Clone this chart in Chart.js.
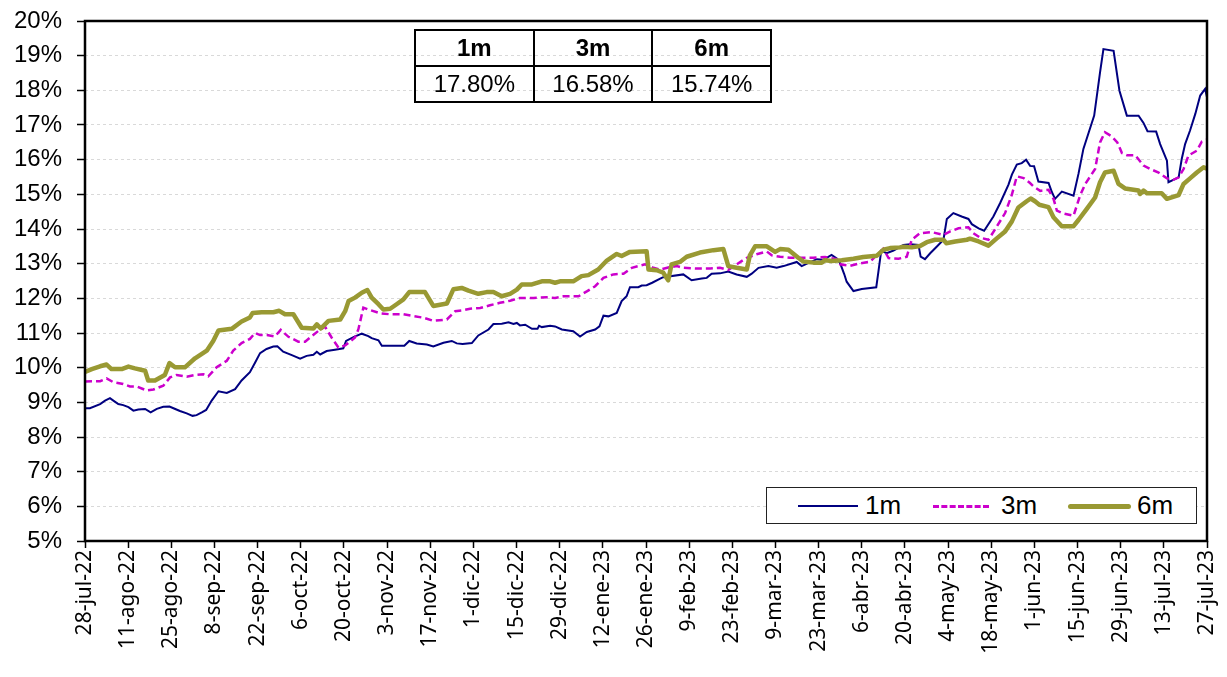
<!DOCTYPE html>
<html lang="es">
<head>
<meta charset="utf-8">
<title>Tasas 1m 3m 6m</title>
<script src="https://cdn.jsdelivr.net/npm/chart.js@4.4.0/dist/chart.umd.min.js"></script>
<style>
  body{ margin:0; background:#fff; }
  #wrap{ position:relative; width:1227px; height:677px; }
  #resumen{
    position:absolute; left:414px; top:29px; width:358px; height:71px;
    border-collapse:collapse; font-family:"Liberation Sans", Arial, sans-serif; font-size:24px;
  }
  #resumen td{ border:2px solid #000; text-align:center; padding:0; height:34px; width:33%; }
  #resumen tr:first-child td{ font-weight:bold; }
  #leyenda{
    position:absolute; left:766px; top:487px; width:429px; height:35px;
    border:1.5px solid #222; background:#fff;
    font-family:"Liberation Sans", Arial, sans-serif; font-size:26px;
  }
  .muestra{ position:absolute; top:17px; }
  .txt{ position:absolute; top:2px; line-height:30px; }
</style>
</head>
<body>
<div id="wrap">
  <canvas id="grafico" width="1227" height="677"></canvas>
  <table id="resumen">
    <tr><td>1m</td><td>3m</td><td>6m</td></tr>
    <tr><td>17.80%</td><td>16.58%</td><td>15.74%</td></tr>
  </table>
  <div id="leyenda">
    <div class="muestra" style="left:31px;width:60px;border-top:2px solid #000080;"></div>
    <div class="txt" style="left:98px;">1m</div>
    <div class="muestra" style="left:166px;width:56px;border-top:3px dashed #cc00cc;"></div>
    <div class="txt" style="left:234px;">3m</div>
    <div class="muestra" style="left:301px;top:16px;width:63px;height:5px;background:#999933;border-radius:3px;"></div>
    <div class="txt" style="left:370px;">6m</div>
  </div>
</div>
<script>
  // etiquetas del eje x, cada 14 dias desde 28-jul-22
  const xLabels = ["28-jul-22","11-ago-22","25-ago-22","8-sep-22","22-sep-22","6-oct-22","20-oct-22","3-nov-22","17-nov-22","1-dic-22","15-dic-22","29-dic-22","12-ene-23","26-ene-23","9-feb-23","23-feb-23","9-mar-23","23-mar-23","6-abr-23","20-abr-23","4-may-23","18-may-23","1-jun-23","15-jun-23","29-jun-23","13-jul-23","27-jul-23"];

  // 1m : dia (desde 28-jul-22) y tasa %
  const dias1m = [0,1.6,4.9,6.5,8.1,9.2,10.8,12.4,14.1,15.7,17.3,19.5,21.3,23.3,25.4,27.4,28.7,30.8,33.0,34.9,36.2,37.9,39.3,41.1,43.3,46.0,48.7,50.8,53.5,55.2,56.8,58.9,61.1,62.4,64.3,67.1,69.8,71.9,74.1,75.2,76.3,78.4,81.1,83.8,84.7,87.1,89.8,91.9,93.0,95.2,96.3,100.0,103.6,105.2,107.6,110.9,113.0,116.3,119.0,120.6,122.5,125.5,127.6,130.9,132.5,135.2,137.4,139.0,140.1,141.1,142.8,145.0,146.8,147.3,148.2,150.9,152.5,154.7,158.4,160.6,162.8,165.5,166.9,168.2,169.8,172.5,174.1,175.7,176.8,179.5,180.6,182.2,184.0,186.6,187.6,194.1,196.8,200.1,201.7,203.3,206.0,208.7,211.4,214.7,216.3,218.5,221.7,224.4,226.6,230.9,232.5,237.4,239.5,242.2,243.9,245.0,246.3,247.1,249.3,252.0,256.7,257.4,258.3,260.1,262.3,265.5,267.7,270.4,271.1,272.5,274.2,276.3,278.5,279.6,281.7,284.4,286.6,287.7,289.9,291.7,294.7,296.9,299.6,300.7,302.3,303.9,305.3,306.6,307.9,309.3,312.6,313.7,314.7,316.9,320.7,322.3,323.9,327.4,329.3,330.4,333.7,335.6,338.0,341.8,343.4,344.7,347.5,348.8,351.0,351.5,354.8,355.8,356.9,358.5,360.2,361.8,363.4,364];
  const tasa1m = [8.83,8.83,8.95,9.05,9.12,9.05,8.95,8.92,8.86,8.76,8.79,8.81,8.71,8.81,8.87,8.88,8.83,8.75,8.68,8.61,8.63,8.71,8.78,9.05,9.32,9.27,9.38,9.63,9.87,10.15,10.42,10.54,10.61,10.62,10.46,10.36,10.26,10.34,10.37,10.46,10.38,10.48,10.52,10.56,10.77,10.88,10.98,10.91,10.85,10.79,10.63,10.63,10.63,10.77,10.70,10.67,10.61,10.72,10.77,10.70,10.68,10.71,10.93,11.10,11.26,11.27,11.31,11.26,11.29,11.22,11.24,11.12,11.12,11.21,11.17,11.21,11.19,11.10,11.05,10.90,11.03,11.10,11.19,11.50,11.48,11.58,11.92,12.06,12.32,12.32,12.37,12.38,12.45,12.57,12.61,12.69,12.52,12.57,12.59,12.71,12.72,12.77,12.69,12.62,12.71,12.88,12.93,12.88,12.93,13.05,12.93,13.13,13.11,13.25,13.15,13.01,12.70,12.48,12.21,12.27,12.32,12.77,13.37,13.30,13.38,13.54,13.56,13.54,13.20,13.13,13.30,13.49,13.69,14.29,14.46,14.36,14.29,14.14,14.02,13.95,14.36,14.75,15.28,15.57,15.86,15.90,16.00,15.82,15.81,15.37,15.33,15.06,14.87,15.08,14.96,15.59,16.31,17.27,18.52,19.19,19.14,17.99,17.27,17.27,17.06,16.82,16.81,16.45,15.97,15.35,15.49,16.02,16.45,16.84,17.32,17.85,18.04,17.80];

  // 3m
  const dias3m = [0,4.9,7.0,9.2,12.4,14.6,16.8,20.0,22.2,25.4,27.6,29.7,33.0,35.7,38.4,40.0,42.7,46.0,48.1,50.8,53.5,55.2,56.8,59.0,61.6,63.5,66.0,69.2,71.4,73.6,75.7,77.9,80.0,82.2,84.4,87.6,88.7,90.3,92.5,95.7,99.0,103.3,106.5,109.8,113.0,117.4,120.1,122.2,124.9,128.2,131.4,134.6,137.9,141.1,145.5,149.8,152.5,155.2,160.1,162.8,165.5,168.2,171.4,174.7,177.4,181.7,184.4,186.5,189.8,192.0,194.1,198.4,202.8,206.0,208.7,211.4,214.7,217.9,221.2,222.8,225.5,228.7,232.0,236.3,240.1,243.9,245.0,248.2,251.5,254.7,256.9,259.0,260.7,263.9,266.6,268.2,270.9,274.7,278.5,280.7,283.4,286.6,288.2,290.4,293.1,295.8,298.5,300.7,302.3,304.5,306.4,307.7,309.9,312.6,314.2,315.3,317.4,320.7,322.8,324.5,327.7,329.3,330.9,333.1,334.9,336.4,338.0,340.7,343.4,345.6,348.3,351.0,353.1,354.8,356.4,358.0,360.7,362.3,364];
  const tasa3m = [9.60,9.61,9.69,9.58,9.53,9.46,9.46,9.34,9.37,9.48,9.72,9.79,9.74,9.79,9.81,9.75,10.01,10.20,10.49,10.71,10.83,11.00,10.94,10.94,10.90,11.09,10.89,10.75,10.75,10.91,11.06,11.18,10.87,10.58,10.64,10.87,11.11,11.73,11.66,11.57,11.54,11.54,11.49,11.44,11.35,11.39,11.63,11.65,11.70,11.72,11.80,11.87,11.93,12.01,12.01,12.03,12.01,12.06,12.06,12.20,12.35,12.59,12.69,12.71,12.88,12.98,12.88,12.83,12.90,12.93,12.88,12.86,12.86,12.88,12.82,12.98,13.17,13.27,13.35,13.24,13.20,13.17,13.17,13.17,13.19,13.13,12.98,12.94,13.01,13.06,13.25,13.43,13.16,13.14,13.20,13.69,13.88,13.91,13.83,13.93,14.02,14.05,13.88,13.75,13.69,14.07,14.46,14.99,15.52,15.47,15.34,15.23,15.10,15.13,14.87,14.53,14.45,14.38,14.96,15.30,15.73,16.50,16.79,16.67,16.50,16.19,16.13,16.13,15.83,15.73,15.63,15.46,15.42,15.49,15.73,16.12,16.26,16.52,16.58];

  // 6m
  const dias6m = [0,2.2,4.9,7.0,8.6,11.9,14.1,16.2,19.5,20.5,22.7,25.9,27.4,29.2,32.4,35.7,39.5,41.6,43.3,47.6,50.8,53.5,54.4,57.3,61.1,63.0,64.9,67.6,70.3,74.1,75.2,76.5,79.0,82.8,84.4,85.5,87.6,89.8,91.6,93.0,95.2,96.8,99.0,101.1,103.3,105.2,110.3,113.0,117.4,119.5,122.2,124.4,127.6,130.3,132.5,135.2,137.9,140.1,141.7,145.0,148.2,150.9,152.5,154.1,158.4,161.1,163.3,166.5,169.3,172.5,174.1,176.8,182.2,182.8,185.5,187.6,189.2,190.3,193.0,195.2,199.5,203.9,207.1,208.7,211.4,214.7,215.7,217.4,221.2,223.9,225.5,228.2,231.4,233.1,236.3,239.0,240.1,242.2,245.5,249.3,252.5,256.9,259.0,261.2,264.4,265.5,268.2,270.9,273.1,275.8,278.5,279.4,282.3,286.1,287.1,289.9,293.1,295.8,298.5,300.7,302.8,305.5,306.8,308.2,309.6,312.6,314.2,316.9,320.7,322.3,325.0,327.7,329.3,330.9,333.7,335.3,337.4,341.8,342.3,343.4,344.5,349.3,351.0,354.8,356.4,358.5,360.7,362.9,364];
  const tasa6m = [9.88,9.96,10.04,10.09,9.96,9.96,10.03,9.98,9.91,9.63,9.63,9.79,10.13,10.01,10.01,10.27,10.49,10.77,11.07,11.12,11.33,11.45,11.58,11.60,11.60,11.64,11.54,11.54,11.15,11.13,11.25,11.13,11.35,11.39,11.63,11.92,12.02,12.16,12.24,12.02,11.83,11.68,11.70,11.83,11.97,12.18,12.18,11.78,11.85,12.26,12.30,12.22,12.13,12.18,12.18,12.06,12.13,12.25,12.40,12.40,12.49,12.49,12.45,12.49,12.49,12.64,12.67,12.83,13.09,13.28,13.22,13.34,13.36,12.83,12.81,12.74,12.52,12.98,13.05,13.20,13.32,13.39,13.42,12.93,12.88,12.83,13.24,13.50,13.50,13.34,13.42,13.40,13.17,13.06,13.03,13.03,13.10,13.08,13.10,13.14,13.19,13.23,13.40,13.45,13.47,13.49,13.47,13.51,13.62,13.69,13.69,13.59,13.64,13.69,13.72,13.64,13.52,13.73,13.93,14.22,14.62,14.80,14.88,14.80,14.70,14.63,14.34,14.08,14.08,14.26,14.58,14.91,15.35,15.63,15.68,15.30,15.17,15.11,15.01,15.11,15.03,15.03,14.87,14.98,15.30,15.46,15.63,15.78,15.74];

  const yTicks = [5,6,7,8,9,10,11,12,13,14,15,16,17,18,19,20];

  const pares = (d, v) => d.map((x, i) => ({x: x, y: v[i]}));

  // marco negro alrededor del area de datos
  const marco = {
    id: 'marco',
    afterDraw(chart){
      const a = chart.chartArea, c = chart.ctx;
      c.save();
      c.strokeStyle = '#000';
      c.lineWidth = 2.5;
      c.strokeRect(a.left, a.top, a.right - a.left, a.bottom - a.top);
      c.restore();
    }
  };

  new Chart(document.getElementById('grafico'), {
    type: 'line',
    data: {
      datasets: [
        { label: '6m', data: pares(dias6m, tasa6m), borderColor: '#999933', borderWidth: 4.5, pointRadius: 0, order: 0, borderJoinStyle: 'round' },
        { label: '3m', data: pares(dias3m, tasa3m), borderColor: '#cc00cc', borderWidth: 2.5, borderDash: [7, 4], pointRadius: 0, order: 1 },
        { label: '1m', data: pares(dias1m, tasa1m), borderColor: '#000080', borderWidth: 2, pointRadius: 0, order: 2 }
      ]
    },
    options: {
      responsive: false,
      animation: false,
      layout: { padding: { top: 21, right: 20, left: 0, bottom: 0 } },
      plugins: { legend: { display: false }, tooltip: { enabled: false } },
      scales: {
        x: {
          type: 'linear', min: 0, max: 364,
          afterBuildTicks: s => { s.ticks = xLabels.map((_, i) => ({ value: i * 14 })); },
          afterFit: s => { s.height = 136; s.paddingLeft = 0; s.paddingRight = 0; },
          ticks: {
            autoSkip: false, minRotation: 90, maxRotation: 90, padding: 2, color: '#000',
            font: { family: 'Noto Sans', size: 21 },
            callback: v => xLabels[Math.round(v / 14)]
          },
          grid: { drawOnChartArea: false, tickLength: 7, tickColor: '#000', tickWidth: 1.5 },
          border: { display: false }
        },
        y: {
          min: 5, max: 20,
          afterBuildTicks: s => { s.ticks = yTicks.map(v => ({ value: v })); },
          afterFit: s => { s.width = 85; s.paddingTop = 0; s.paddingBottom = 0; },
          ticks: {
            padding: 15, color: '#000',
            font: { family: 'Liberation Sans', size: 24 },
            callback: v => v + '%'
          },
          grid: { color: '#d9d9d9', lineWidth: 1, tickColor: '#000', tickLength: 8, tickWidth: 1.5, tickBorderDash: [] },
          border: { display: false, dash: [3, 3] }
        }
      }
    },
    plugins: [marco]
  });
</script>
</body>
</html>
